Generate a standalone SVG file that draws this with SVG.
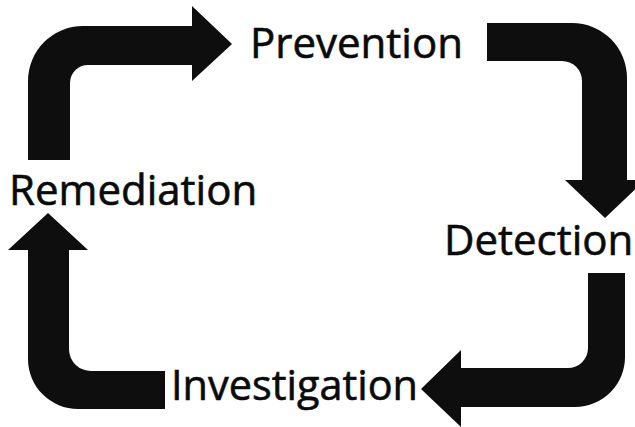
<svg xmlns="http://www.w3.org/2000/svg" width="635" height="427" viewBox="0 0 635 427">
<style>
.arrow{fill:#0e0e0e;stroke:none}
.label{font-family:"Open Sans","Liberation Sans",sans-serif;font-size:42px;fill:#0a0a0a;stroke:#0a0a0a;stroke-width:0.6}
</style>
<rect width="635" height="427" fill="#ffffff"/>
<g id="connectors">
<path id="arrow-remediation-prevention" class="arrow" d="M 28 160 L 28 81 A 55 55 0 0 1 83 26 L 192 26 L 192 6 L 232 44 L 192 81 L 192 65 L 88 65 A 18 18 0 0 0 70 83 L 70 160 Z"/>
<path id="arrow-prevention-detection" class="arrow" d="M 487 23 L 572 23 A 55 55 0 0 1 627 78 L 627 180 L 645 180 L 605 218 L 565 180 L 582 180 L 582 81 A 20 20 0 0 0 562 61 L 487 61 Z"/>
<path id="arrow-detection-investigation" class="arrow" d="M 588 273 L 625 273 L 625 356 A 50 50 0 0 1 575 407 L 461 407 L 461 427 L 421 389 L 461 350 L 461 368 L 568 368 A 20 20 0 0 0 588 348 Z"/>
<path id="arrow-investigation-remediation" class="arrow" d="M 165 371 L 92 371 A 22 22 0 0 1 69 349 L 69 250 L 88 250 L 48 213 L 8 250 L 28 250 L 28 359 A 50 50 0 0 0 78 409 L 165 409 Z"/>
</g>
<g id="prevention"><text class="label" x="250" y="58">Prevention</text></g>
<g id="detection"><text class="label" x="444" y="255">Detection</text></g>
<g id="investigation"><text class="label" x="171" y="400" textLength="247" lengthAdjust="spacingAndGlyphs">Investigation</text></g>
<g id="remediation"><text class="label" x="9" y="205">Remediation</text></g>
</svg>
